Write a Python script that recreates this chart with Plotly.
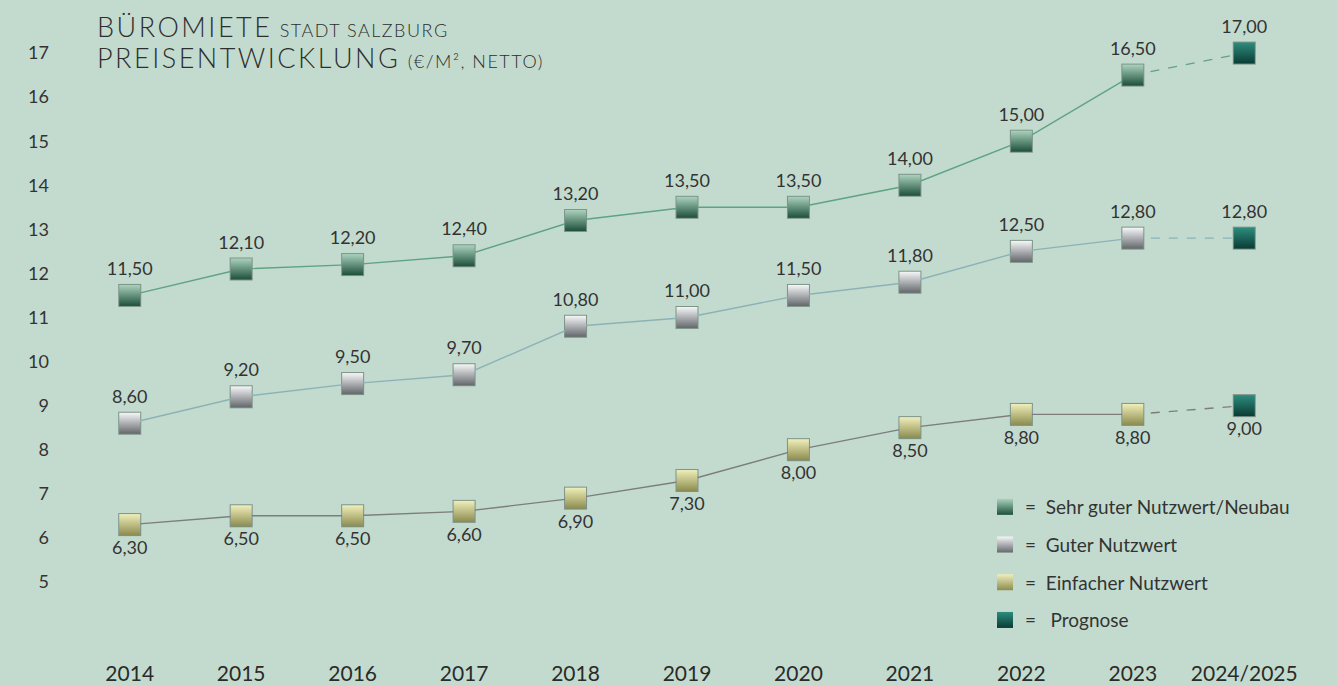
import plotly.graph_objects as go

# data
YEARS = ["2014", "2015", "2016", "2017", "2018", "2019", "2020", "2021", "2022", "2023", "2024/2025"]
SEHR_GUT = [11.50, 12.10, 12.20, 12.40, 13.20, 13.50, 13.50, 14.00, 15.00, 16.50, 17.00]
GUT = [8.60, 9.20, 9.50, 9.70, 10.80, 11.00, 11.50, 11.80, 12.50, 12.80, 12.80]
EINFACH = [6.30, 6.50, 6.50, 6.60, 6.90, 7.30, 8.00, 8.50, 8.80, 8.80, 9.00]
Y_TICKS = list(range(5, 18))

BG = "rgb(195,219,207)"
FONT = "Lato, 'Open Sans', sans-serif"
TEXT_COLOR = "#333333"
MARKER_SIZE = 21

# pixel layout
W, H = 1338, 686
L, R, T, B = 71, 38, 6, 27
PW, PH = W - L - R, H - T - B
SHIFT = 3  # shadow offset in px
Y_RANGE = [3.25, 18]

SERIES = [
    ("Sehr guter Nutzwert/Neubau", SEHR_GUT, "rgb(95,163,130)", "rgb(170,210,188)", "rgb(30,80,60)", "top center"),
    ("Guter Nutzwert", GUT, "rgb(140,178,182)", "rgb(245,246,248)", "rgb(100,104,108)", "top center"),
    ("Einfacher Nutzwert", EINFACH, "rgb(125,125,125)", "rgb(240,238,185)", "rgb(140,140,80)", "bottom center"),
]
PROG_TOP, PROG_BOTTOM = "rgb(45,140,125)", "rgb(10,60,52)"

fig = go.Figure()

# shadows on the base axes (shifted right/down by a few px)
for name, vals, line_c, top_c, bot_c, tpos in SERIES:
    fig.add_trace(go.Scatter(
        x=YEARS[:10], y=vals[:10], mode="markers",
        marker=dict(symbol="square", size=MARKER_SIZE + 2, color="rgba(20,40,30,0.4)", line_width=0),
        showlegend=False, hoverinfo="skip", xaxis="x", yaxis="y",
    ))
fig.add_trace(go.Scatter(
    x=[YEARS[-1]] * 3, y=[SEHR_GUT[-1], GUT[-1], EINFACH[-1]], mode="markers",
    marker=dict(symbol="square", size=MARKER_SIZE + 2, color="rgba(20,40,30,0.4)", line_width=0),
    showlegend=False, hoverinfo="skip", xaxis="x", yaxis="y",
))

# lines
for name, vals, line_c, top_c, bot_c, tpos in SERIES:
    fig.add_trace(go.Scatter(
        x=YEARS[:10], y=vals[:10], mode="lines", line=dict(color=line_c, width=1.4),
        showlegend=False, hoverinfo="skip", xaxis="x2", yaxis="y2",
    ))
    fig.add_trace(go.Scatter(
        x=YEARS[9:], y=vals[9:], mode="lines", line=dict(color=line_c, width=1.4, dash="dash"),
        showlegend=False, hoverinfo="skip", xaxis="x2", yaxis="y2",
    ))

# markers (also used for the legend)
for name, vals, line_c, top_c, bot_c, tpos in SERIES:
    fig.add_trace(go.Scatter(
        x=YEARS[:10], y=vals[:10], mode="markers",
        name="=\u00a0 " + name, legendgroup=name,
        marker=dict(symbol="square", size=MARKER_SIZE, color=top_c, line_width=0,
                    gradient=dict(type="vertical", color=bot_c)),
        xaxis="x2", yaxis="y2",
    ))
fig.add_trace(go.Scatter(
    x=[YEARS[-1]] * 3, y=[SEHR_GUT[-1], GUT[-1], EINFACH[-1]], mode="markers",
    name="=\u00a0\u00a0 Prognose", legendgroup="prog",
    marker=dict(symbol="square", size=MARKER_SIZE, color=PROG_TOP, line_width=0,
                gradient=dict(type="vertical", color=PROG_BOTTOM)),
    xaxis="x2", yaxis="y2",
))

# value labels (invisible markers keep the text clear of the squares)
for name, vals, line_c, top_c, bot_c, tpos in SERIES:
    fig.add_trace(go.Scatter(
        x=YEARS, y=vals, mode="markers+text", texttemplate="%{y:.2f}", textposition=tpos,
        marker=dict(size=24, color="rgba(0,0,0,0)"),
        textfont=dict(family=FONT, size=18, color=TEXT_COLOR),
        showlegend=False, hoverinfo="skip", xaxis="x2", yaxis="y2",
    ))

fig.update_layout(
    width=W, height=H,
    margin=dict(l=L, r=R, t=T, b=B),
    paper_bgcolor=BG, plot_bgcolor=BG,
    separators=",.",
    font=dict(family=FONT, color=TEXT_COLOR),
    xaxis=dict(type="category", categoryarray=YEARS, range=[-0.5, 10.5],
               domain=[SHIFT / PW, 1], visible=False, anchor="y"),
    yaxis=dict(range=Y_RANGE, domain=[0, 1 - SHIFT / PH], visible=False, anchor="x"),
    xaxis2=dict(type="category", categoryarray=YEARS, range=[-0.5, 10.5],
                domain=[0, 1 - SHIFT / PW], overlaying="x", anchor="y2",
                showgrid=False, zeroline=False, showline=False, ticks="",
                tickfont=dict(family=FONT, size=21, color="#2a2a2a"), automargin=False),
    yaxis2=dict(range=Y_RANGE, domain=[SHIFT / PH, 1], overlaying="y", anchor="x2",
                tickvals=Y_TICKS, showgrid=False, zeroline=False, showline=False, ticks="",
                ticklabelstandoff=24,
                tickfont=dict(family=FONT, size=18, color=TEXT_COLOR), automargin=False),
    showlegend=True,
    legend=dict(
        x=(985 - L) / PW, y=(H - B - 488) / PH, xanchor="left", yanchor="top",
        bgcolor="rgba(0,0,0,0)", traceorder="grouped", tracegroupgap=10,
        font=dict(family=FONT, size=19, color=TEXT_COLOR),
    ),
    annotations=[
        dict(xref="paper", yref="paper", x=(95 - L) / PW, y=(H - B - 26) / PH,
             xanchor="left", yanchor="middle", showarrow=False,
             text="<span style='letter-spacing:2.5px'>BÜROMIETE</span> "
                  "<span style='font-size:18px;letter-spacing:1.5px'>STADT SALZBURG</span>",
             font=dict(family=FONT, size=27, color="#2e2e2e", weight=300)),
        dict(xref="paper", yref="paper", x=(95 - L) / PW, y=(H - B - 58) / PH,
             xanchor="left", yanchor="middle", showarrow=False,
             text="<span style='letter-spacing:2.5px'>PREISENTWICKLUNG</span> "
                  "<span style='font-size:18px;letter-spacing:1.5px'>(€/M², NETTO)</span>",
             font=dict(family=FONT, size=27, color="#2e2e2e", weight=300)),
    ],
)

fig.write_html("out.html", config={"displayModeBar": False},
               post_script="document.body.style.margin='0';")
